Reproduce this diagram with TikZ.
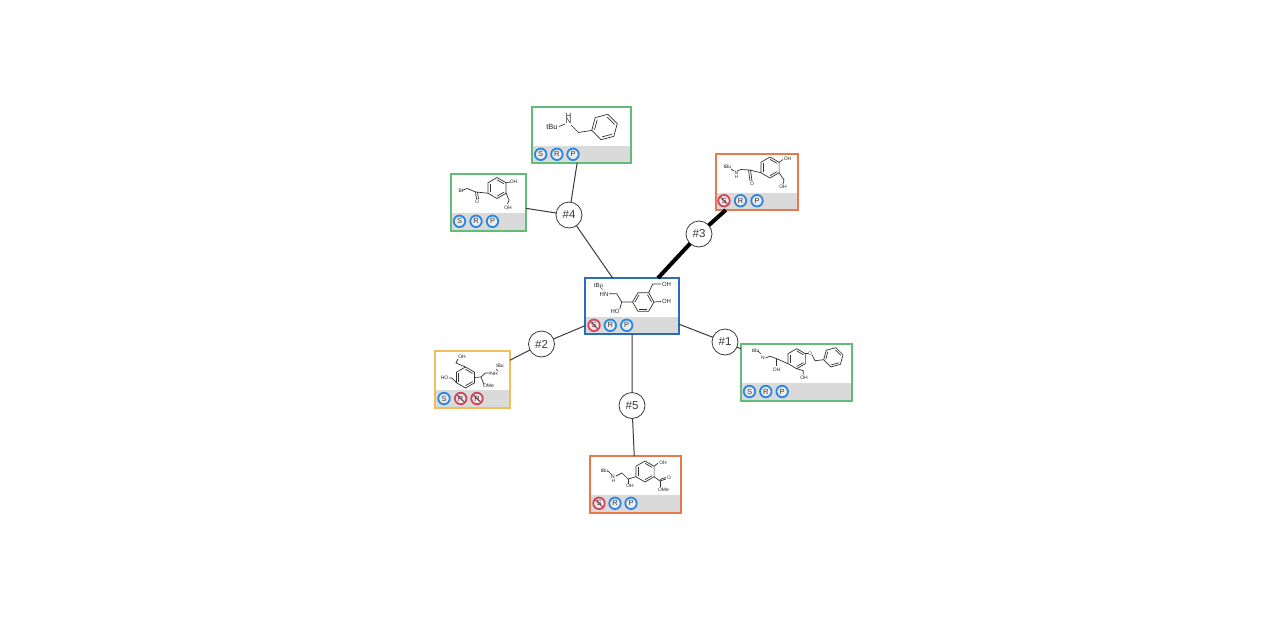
\documentclass[tikz,border=0pt]{standalone}
\usepackage{fontspec}
\setmainfont{Liberation Sans}
\usetikzlibrary{positioning}
\definecolor{okblue}{HTML}{2B86E0}
\definecolor{badred}{HTML}{D2455A}
\definecolor{boxgreen}{HTML}{62BC78}
\definecolor{boxorange}{HTML}{E8794A}
\definecolor{boxyellow}{HTML}{F2BE5A}
\definecolor{boxblue}{HTML}{2A6FB5}
\definecolor{bandgray}{HTML}{DADADA}
\definecolor{inkgray}{HTML}{3A3A3A}
\tikzset{
  card/.style={draw=#1, line width=1.8pt, fill=white, inner sep=0pt, outer sep=0pt, anchor=north west},
  hub/.style={circle, draw=inkgray, fill=white, line width=0.8pt, minimum size=26pt, inner sep=0pt, outer sep=0pt, font=\fontsize{11.5}{12}\selectfont, text=inkgray},
  link/.style={draw=inkgray, line width=1pt},
  okbadge/.style={circle, draw=okblue, fill=bandgray!50, line width=1.8pt, minimum size=11.5pt, inner sep=0pt, outer sep=0pt, font=\fontsize{7.5}{7.5}\selectfont, text=inkgray},
  badbadge/.style={okbadge, draw=badred, path picture={\draw[badred, line width=1.2pt] (path picture bounding box.north west) -- (path picture bounding box.south east);}},
  bond/.style={draw=black!80, line width=0.7pt},
  atom/.style={inner sep=0pt, font=\fontsize{#1}{#1}\selectfont, text=black!85},
  atom/.default=5.5
}
% hexagon with three inner double bonds: centre, radius, turn
\newcommand{\benzene}[4]{%
  \begin{scope}[shift={(#1,#2)}, rotate=#4]
    \draw[bond] (0:#3) -- (60:#3) -- (120:#3) -- (180:#3) -- (240:#3) -- (300:#3) -- cycle;
    \draw[bond] (60:#3*0.78) -- (120:#3*0.78);
    \draw[bond] (180:#3*0.78) -- (240:#3*0.78);
    \draw[bond] (300:#3*0.78) -- (0:#3*0.78);
  \end{scope}}
\begin{document}
\begin{tikzpicture}[x=1pt, y=-1pt]
  \useasboundingbox (0,0) rectangle (1269,619);
  % Cards
  \node[card=boxblue, line width=2.6pt, minimum width=94pt, minimum height=56pt] (main) at (585,278) {};
  \node[card=boxgreen, minimum width=99pt, minimum height=56pt] (benzyl) at (532,107) {};
  \node[card=boxgreen, minimum width=75pt, minimum height=57pt] (bromo) at (451,174) {};
  \node[card=boxorange, minimum width=82pt, minimum height=56pt] (ketone) at (716,154) {};
  \node[card=boxgreen, minimum width=111pt, minimum height=57pt] (benzyloxy) at (741,344) {};
  \node[card=boxyellow, minimum width=75pt, minimum height=57pt] (methoxy) at (435,351) {};
  \node[card=boxorange, minimum width=91pt, minimum height=57pt] (ester) at (590,456) {};
  % Grey bands
  \fill[bandgray] (586.3,317) rectangle (677.7,332.7);
  \fill[bandgray] (532.9,146) rectangle (630.1,162.1);
  \fill[bandgray] (451.9,213) rectangle (525.1,230.1);
  \fill[bandgray] (716.9,193) rectangle (797.1,209.1);
  \fill[bandgray] (741.9,383) rectangle (851.1,400.1);
  \fill[bandgray] (435.9,390) rectangle (509.1,407.1);
  \fill[bandgray] (590.9,495) rectangle (680.1,512.1);
  % Hubs
  \node[hub] (hubone) at (725,342) {\#1};
  \node[hub] (hubtwo) at (541.5,344) {\#2};
  \node[hub] (hubthree) at (699,234) {\#3};
  \node[hub] (hubfour) at (569,215) {\#4};
  \node[hub] (hubfive) at (632,405.5) {\#5};
  % Links
  \draw[link] (main) -- (hubone) -- (benzyloxy);
  \draw[link] (main) -- (hubtwo) -- (methoxy);
  \draw[black, line width=4pt] (main) -- (hubthree) -- (ketone);
  \draw[link] (main) -- (hubfour) -- (benzyl);
  \draw[link] (hubfour) -- (bromo);
  \draw[link] (main) -- (hubfive) -- (ester);
  % Badges
  \node[badbadge] (mains) at (594,325.3) {S};
  \node[okbadge] (mainr) at (610.3,325.3) {R};
  \node[okbadge] (mainp) at (626.7,325.3) {P};
  \node[okbadge] (benzyls) at (540.7,154.3) {S};
  \node[okbadge] (benzylr) at (556.9,154.3) {R};
  \node[okbadge] (benzylp) at (573,154.3) {P};
  \node[okbadge] (bromos) at (459.5,221.3) {S};
  \node[okbadge] (bromor) at (476,221.3) {R};
  \node[okbadge] (bromop) at (492.5,221.3) {P};
  \node[badbadge] (ketones) at (724,200.7) {S};
  \node[okbadge] (ketoner) at (740.5,200.7) {R};
  \node[okbadge] (ketonep) at (757,200.7) {P};
  \node[okbadge] (benzyloxys) at (749.5,391.5) {S};
  \node[okbadge] (benzyloxyr) at (765.8,391.5) {R};
  \node[okbadge] (benzyloxyp) at (782.2,391.5) {P};
  \node[okbadge] (methoxys) at (444,398.5) {S};
  \node[badbadge] (methoxyr) at (460.7,398.5) {R};
  \node[badbadge] (methoxyrb) at (477,398.5) {R};
  \node[badbadge] (esters) at (599,503.3) {S};
  \node[okbadge] (esterr) at (615,503.3) {R};
  \node[okbadge] (esterp) at (631,503.3) {P};
  % Main molecule
  \benzene{643.3}{302}{10.7}{0}
  \draw[bond] (632.6,302) -- (621.7,302) -- (616.7,293.7) -- (609,293.7);
  \draw[bond] (621.7,302) -- (619.8,309);
  \draw[bond] (654,302) -- (661,301.5);
  \draw[bond] (648.7,292.7) -- (652.7,284) -- (661,284);
  \draw[bond, densely dotted] (603,290) -- (600,287);
  \node[atom=6] (mainnh) at (604,294) {HN};
  \node[atom=6] (maintbu) at (598.5,285) {tBu};
  \node[atom=6] (mainho) at (615,311.5) {HO};
  \node[atom=6] (mainoha) at (666.5,301.5) {OH};
  \node[atom=6] (mainohb) at (666.5,284) {OH};
  % Benzylamine
  \benzene{604.5}{127}{13.2}{15}
  \draw[bond] (591.8,130.4) -- (578.5,132.5) -- (571,125);
  \draw[bond] (559,126.5) -- (565,124);
  \node[atom=7.5] (benzyln) at (568.5,121) {N};
  \node[atom=7.5] (benzylh) at (568.5,115.5) {H};
  \node[atom=7.5] (benzyltbu) at (552,127) {tBu};
  % Bromo ketone
  \benzene{497}{188}{10.5}{30}
  \draw[bond] (487.9,193.2) -- (476,192) -- (467,188.5) -- (462,190.5);
  \draw[bond] (475.5,192) -- (476.5,199);
  \draw[bond] (477.5,192) -- (478.5,199);
  \draw[bond] (506.1,182.8) -- (510,182);
  \draw[bond] (506.1,193.2) -- (509,200) -- (507.5,204);
  \node[atom=5] (bromobr) at (461,190.5) {Br};
  \node[atom=5] (bromoo) at (477,201.5) {O};
  \node[atom=5] (bromooha) at (513.5,181.5) {OH};
  \node[atom=5] (bromoohb) at (508,207.5) {OH};
  % Amino ketone
  \benzene{770}{167.5}{10.5}{30}
  \draw[bond] (760.9,172.7) -- (749.5,170) -- (741,169.5) -- (737.5,171);
  \draw[bond] (748.5,170) -- (750,181);
  \draw[bond] (750.5,170) -- (752,181);
  \draw[bond] (779.1,162.3) -- (783,159.5);
  \draw[bond] (779.1,172.7) -- (784,180) -- (783,184);
  \draw[bond] (731,169) -- (734,171);
  \node[atom=5] (ketonen) at (736.5,172.5) {N};
  \node[atom=4.5] (ketoneh) at (736.5,177) {H};
  \node[atom=5] (ketonetbu) at (727.5,167) {tBu};
  \node[atom=5] (ketoneo) at (752,183.5) {O};
  \node[atom=5] (ketoneoha) at (787.5,159) {OH};
  \node[atom=5] (ketoneohb) at (783,187) {OH};
  % Benzyl ether
  \benzene{796.7}{358.7}{10}{30}
  \draw[bond] (788,363.7) -- (776.7,358.7) -- (770,356.3) -- (765.5,358);
  \draw[bond] (776.7,358.7) -- (776.7,366);
  \draw[bond] (796.7,368.7) -- (803.3,370.7) -- (803.3,374.7);
  \draw[bond] (805.4,353.7) -- (807.5,353.7);
  \draw[bond] (812,355) -- (815,360.7) -- (823.5,359.7);
  \benzene{833.3}{357.3}{10}{15}
  \draw[bond] (758,351) -- (761,354);
  \node[atom=5] (benzyloxyn) at (763,357.3) {N};
  \node[atom=5] (benzyloxytbu) at (755.7,350.3) {tBu};
  \node[atom=5] (benzyloxyoha) at (776.7,369.7) {OH};
  \node[atom=5] (benzyloxyohb) at (804,378) {OH};
  \node[atom=5] (benzyloxyo) at (810,353.7) {O};
  % Methoxy
  \benzene{465.5}{377.5}{10.5}{30}
  \draw[bond] (456.4,382.7) -- (452,378) -- (449,378);
  \draw[bond] (465.5,367) -- (456,363) -- (458,359);
  \draw[bond] (474.6,377.5) -- (481,377) -- (484,384.5);
  \draw[bond] (481,377) -- (485.5,373) -- (491,373);
  \draw[bond] (498,371) -- (496,369);
  \node[atom=5] (methoxyho) at (444.5,377.5) {HO};
  \node[atom=5] (methoxyoh) at (462,356.5) {OH};
  \node[atom=5] (methoxyome) at (488.5,386) {OMe};
  \node[atom=5] (methoxynh) at (494,373.5) {NH};
  \node[atom=5] (methoxytbu) at (500,365.5) {tBu};
  % Ester
  \benzene{645}{471.5}{10.5}{30}
  \draw[bond] (635.9,476.7) -- (628,479) -- (622,473) -- (616,476);
  \draw[bond] (628,479) -- (628,484);
  \draw[bond] (654.1,466.3) -- (658,463);
  \draw[bond] (654.1,476.7) -- (660,481) -- (666,479);
  \draw[bond] (660,479.5) -- (666,477.5);
  \draw[bond] (660,481) -- (660,487);
  \draw[bond] (608,471) -- (612,475);
  \node[atom=5] (estern) at (613,477) {N};
  \node[atom=4.5] (esterh) at (613.5,481) {H};
  \node[atom=5] (estertbu) at (604.5,470.5) {tBu};
  \node[atom=5] (esteroh) at (630,486) {OH};
  \node[atom=5] (esterohb) at (663,462.5) {OH};
  \node[atom=5] (estero) at (669,477.5) {O};
  \node[atom=5] (esterome) at (663.5,489.5) {OMe};
\end{tikzpicture}
\end{document}
